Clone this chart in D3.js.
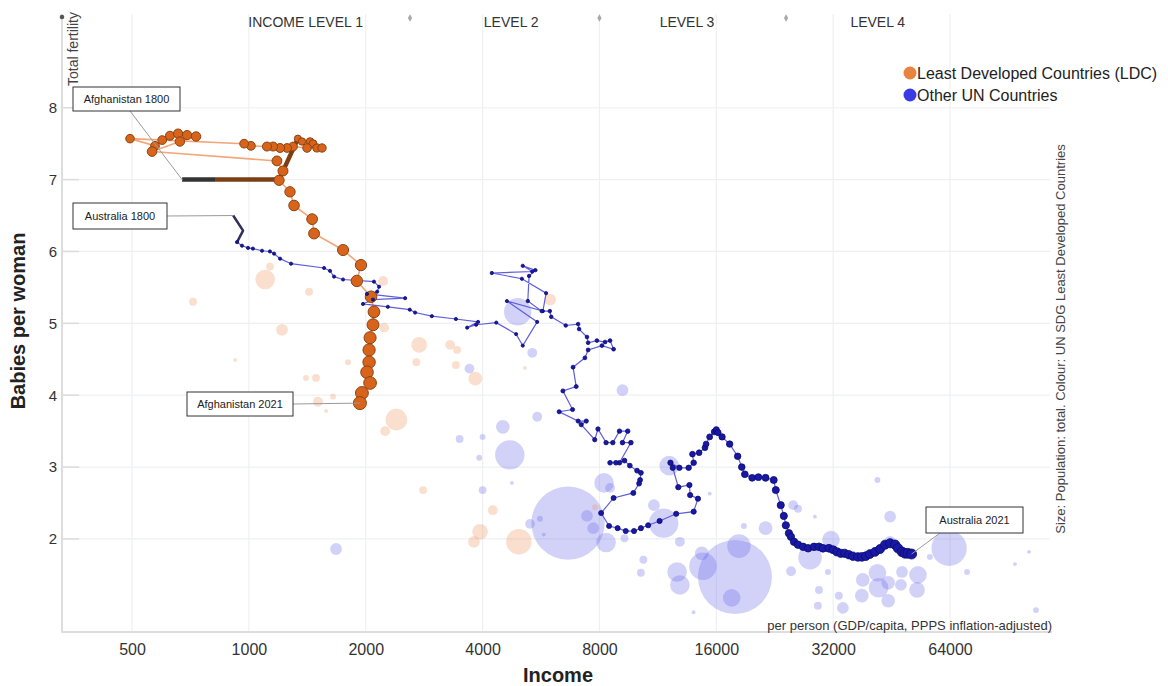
<!DOCTYPE html>
<html>
<head>
<meta charset="utf-8">
<script src="https://cdn.jsdelivr.net/npm/d3@7"></script>
<style>
body { margin: 0; background: #fff; }
svg { font-family: "Liberation Sans", Arial, sans-serif; }
</style>
</head>
<body>
<div id="chart"></div>
<script>
// Gapminder style chart: babies per woman vs income, trails for Afghanistan and Australia

var xTicks = [500, 1000, 2000, 4000, 8000, 16000, 32000, 64000];
var yTicks = [2, 3, 4, 5, 6, 7, 8];

var levelBounds = [2600, 8000, 24200];
var levelNames = ["INCOME LEVEL 1", "LEVEL 2", "LEVEL 3", "LEVEL 4"];
var levelLabelAt = [1400, 4740, 13450, 41700];

var legendItems = ["Least Developed Countries (LDC)", "Other UN Countries"];

// early years drawn as a thick line: [income, fertility]
var afghanistanEarly = [[673, 7.0], [818, 7.0], [1196, 7.0], [1337, 7.57]];
var australiaEarly = [[911, 6.5], [966, 6.29], [932, 6.13]];

// trail points: [income, fertility, population (millions)]
var afghanistanTrail = [
  [1337,7.57,13],[1370,7.53,14],[1437,7.53,15],[1463,7.50,16],[1497,7.44,17],[1543,7.44,18],
  [1412,7.44,19],[1299,7.46,20],[1254,7.44,20],[1203,7.44,21],[1154,7.46,21],[1113,7.46,21],
  [1012,7.47,20],[972,7.50,20],[494,7.57,19],[573,7.47,20],[598,7.55,20],[626,7.61,21],
  [657,7.64,22],[693,7.62,22],[731,7.60,23],[664,7.53,23],[563,7.39,24],[1181,7.26,25],
  [1224,7.12,26],[1196,6.99,27],[1276,6.83,28],[1307,6.64,29],[1455,6.45,30],[1472,6.25,31],
  [1748,6.02,32],[1944,5.81,33],[1897,5.59,34],[2064,5.37,35],[2100,5.16,36],[2088,4.98,37],
  [2052,4.80,38],[2040,4.63,39],[2040,4.46,40],[2015,4.32,41],[2052,4.17,42],[1955,4.03,43],
  [1932,3.89,44]
];

var australiaTrail = [
  [932,6.13,0.4],[960,6.08,0.45],[995,6.05,0.5],[1024,6.04,0.55],[1081,6.01,0.6],[1133,6.00,0.65],
  [1161,5.97,0.7],[1203,5.90,0.75],[1284,5.83,0.8],[1562,5.77,0.9],[1618,5.73,1.0],[1657,5.65,1.1],
  [1748,5.61,1.2],[2100,5.58,1.3],[2164,5.51,1.4],[2140,5.44,1.45],[2015,5.41,1.5],[2526,5.35,1.6],
  [2088,5.33,1.65],[1968,5.27,1.7],[2280,5.23,1.75],[2597,5.19,1.8],[2680,5.15,1.9],[2960,5.10,2.0],
  [3414,5.06,2.1],[3894,5.02,2.15],[3650,4.94,2.2],[3850,4.98,2.25],[4338,5.01,2.3],[4880,4.85,2.4],
  [5076,4.69,2.5],[5530,5.02,2.55],[4620,5.31,2.6],[5720,5.17,2.65],[5830,5.42,2.7],[5050,5.62,2.8],
  [4225,5.70,2.85],[5370,5.72,2.9],[5076,5.80,2.95],[5470,5.74,3.0],[5270,5.66,3.05],[5230,5.31,3.1],
  [5680,5.17,3.2],[5960,5.17,3.25],[6010,5.09,3.3],[6550,4.97,3.35],[7050,4.99,3.4],[7090,4.92,3.45],
  [7430,4.81,3.5],[7480,4.73,3.55],[7880,4.76,3.6],[8270,4.74,3.65],[8520,4.76,3.7],[8700,4.64,3.75],
  [8120,4.69,3.8],[7480,4.63,3.85],[7340,4.52,3.9],[6840,4.39,4.0],[6970,4.12,4.1],[6440,4.06,4.2],
  [6820,3.80,4.3],[6300,3.77,4.4],[7050,3.64,4.5],[7400,3.64,4.6],[7180,3.59,4.7],[7780,3.38,4.8],
  [7930,3.53,4.9],[8320,3.34,5.0],[8660,3.34,5.1],[9010,3.50,5.2],[9460,3.50,5.3],[9170,3.34,5.4],
  [9640,3.34,5.5],[9010,3.06,5.6],[8520,3.06,5.7],[8820,3.06,5.8],[9280,3.09,5.9],[9580,3.02,6.0],
  [10000,2.95,6.1],[10230,2.92,6.2],[10180,2.82,6.3],[10120,2.77,6.4],[9780,2.64,6.5],[8700,2.57,6.55],
  [8080,2.36,6.6],[8470,2.18,6.65],[8910,2.15,6.7],[9350,2.11,6.75],[9820,2.11,6.8],[10230,2.15,6.85],
  [10680,2.19,6.9],[11430,2.25,6.95],[12610,2.35,7.0],[13990,2.38,7.05],[14350,2.56,7.1],[13700,2.61,7.15],
  [13640,2.75,7.2],[12770,2.72,7.3],[12360,2.99,7.4],[12190,3.06,7.5],[12850,2.99,7.6],[13580,2.99,7.8],
  [13990,3.06,8.0],[13890,3.18,8.2],[14450,3.20,8.4],[14960,3.27,8.6],[15060,3.32,8.8],[15380,3.42,9.1],
  [15810,3.49,9.4],[16000,3.52,9.8],[16160,3.48,10.2],[16560,3.42,10.5],[17320,3.32,10.8],[18160,3.15,11.1],
  [18610,3.00,11.4],[18950,2.90,11.7],[19790,2.85,12.0],[20540,2.86,12.3],[21430,2.85,12.6],[22490,2.82,12.9],
  [22770,2.68,13.1],[23450,2.47,13.3],[23880,2.32,13.5],[24170,2.19,13.7],[24610,2.08,13.9],[24910,2.03,14.0],
  [25370,1.96,14.2],[25980,1.92,14.4],[26770,1.89,14.6],[27580,1.87,14.9],[28570,1.89,15.2],[29420,1.89,15.5],
  [30120,1.87,15.8],[31200,1.87,16.1],[32000,1.85,16.5],[32720,1.82,16.9],[33490,1.80,17.3],[34290,1.80,17.7],
  [35120,1.78,18.1],[35970,1.76,18.5],[37050,1.75,18.9],[37930,1.75,19.3],[38840,1.76,19.7],[39770,1.79,20.1],
  [41030,1.82,20.5],[42270,1.86,21.0],[43540,1.92,21.5],[44860,1.94,22.0],[46210,1.92,22.6],[47030,1.87,23.2],
  [48140,1.82,23.8],[48990,1.80,24.5],[49860,1.80,25.2],[50960,1.79,25.9]
];

// other countries in 2021: [income, fertility, population (millions), LDC 1/0]
var world2021 = [
  [1101,5.61,100,1],[1133,5.79,16,1],[718,5.30,16,1],[1217,4.91,36,1],[1429,5.44,16,1],[2218,5.59,25,1],
  [2230,4.94,25,1],[2745,4.70,64,1],[3300,4.70,25,1],[3440,4.63,16,1],[2700,4.46,16,1],[1800,4.46,9,1],
  [3414,4.42,16,1],[3830,4.23,49,1],[1489,4.24,16,1],[1403,4.24,9,1],[1506,3.91,25,1],[1647,3.98,9,1],
  [1581,3.78,4,1],[2398,3.66,121,1],[2243,3.50,25,1],[921,4.49,4,1],[2810,2.68,16,1],[4250,2.40,25,1],
  [3940,2.10,64,1],[3800,1.96,36,1],[4960,1.96,169,1],[5970,5.33,36,1],[5140,4.38,4,1],[7790,2.44,9,1],
  [4926,5.16,196,0],[5370,4.59,25,0],[3700,4.37,25,0],[9170,4.07,36,0],[5530,3.70,25,0],[4510,3.56,49,0],
  [3490,3.39,16,0],[4000,3.42,9,0],[4700,3.17,225,0],[3920,3.13,9,0],[4760,2.78,4,0],[4000,2.68,16,0],
  [6640,2.22,1400,0],[5620,2.28,9,0],[7430,2.32,36,0],[7710,2.15,36,0],[5300,2.21,25,0],[8320,1.95,100,0],
  [8220,2.78,100,0],[8520,2.71,25,0],[11050,2.47,36,0],[11710,2.22,225,0],[12100,3.02,100,0],[10380,1.71,16,0],
  [12680,1.54,100,0],[5750,2.06,4,0],[1677,1.86,36,0],[17870,1.47,1425,0],[18300,1.90,144,0],[17530,1.18,81,0],
  [14780,1.62,196,0],[14680,1.80,49,0],[12890,1.36,100,0],[21430,2.15,49,0],[25240,2.47,25,0],[24930,1.55,25,0],
  [27900,1.74,144,0],[31590,1.99,81,0],[29420,1.29,16,0],[31020,1.54,9,0],[33900,1.04,36,0],[33100,1.21,16,0],
  [38150,1.43,49,0],[41610,1.53,81,0],[44350,1.39,49,0],[44860,2.31,36,0],[48140,1.54,36,0],[52930,1.50,81,0],
  [41610,2.82,9,0],[63660,1.87,324,0],[56800,1.75,9,0],[70800,1.54,9,0],[102300,1.82,4,0],[94100,1.65,4,0],
  [106600,1.01,9,0],[52640,1.29,64,0],[47830,1.36,36,0],[41900,1.32,100,0],[37930,1.21,49,0],[44350,1.14,49,0],
  [29230,1.07,16,0],[15390,2.63,4,0],[18840,2.18,9,0],[25980,2.42,16,0],[28720,2.31,4,0],[13980,0.98,4,0],
  [10230,1.53,16,0],[9280,2.01,16,0],[12890,1.96,25,0],[44860,1.96,36,0]
];

var w = 1168,
    h = 686;

var svg = d3.select("#chart")
            .append("svg")
            .attr("width", w)
            .attr("height", h);

var x = d3.scaleLog().domain([330, 117200]).range([62, 1052]);
var y = d3.scaleLinear().domain([0.705, 9.36]).range([632, 10]);
var r = d3.scaleSqrt().domain([0, 1425]).range([0, 37]);

function dotR(d) { return Math.max(1.6, r(d[2])); }

// grid
svg.append("g").selectAll("line")
   .data(xTicks).enter().append("line")
   .attr("x1", d => x(d)).attr("x2", d => x(d))
   .attr("y1", 14).attr("y2", 632)
   .attr("stroke", "#eef0f2").attr("stroke-width", 1.2);

svg.append("g").selectAll("line")
   .data(yTicks).enter().append("line")
   .attr("x1", 62).attr("x2", 1050)
   .attr("y1", d => y(d)).attr("y2", d => y(d))
   .attr("stroke", "#eef0f2").attr("stroke-width", 1.2);

// y tick stubs
svg.append("g").selectAll("line")
   .data(yTicks).enter().append("line")
   .attr("x1", 62).attr("x2", 79)
   .attr("y1", d => y(d)).attr("y2", d => y(d))
   .attr("stroke", "#dcdcdc").attr("stroke-width", 1.5);

// axis lines
svg.append("line").attr("x1", 62).attr("x2", 62).attr("y1", 14).attr("y2", 633)
   .attr("stroke", "#dddddd").attr("stroke-width", 2);
svg.append("line").attr("x1", 61).attr("x2", 1052).attr("y1", 632).attr("y2", 632)
   .attr("stroke", "#dddddd").attr("stroke-width", 2);

var xAxis = svg.append("g")
   .attr("transform", "translate(0,632)")
   .call(d3.axisBottom(x).tickValues(xTicks).tickFormat(d3.format("d")).tickSize(0).tickPadding(12));
xAxis.select(".domain").remove();
xAxis.selectAll("text").attr("font-size", "16px").attr("fill", "#333")
     .attr("font-family", "Liberation Sans, Arial, sans-serif");

var yAxis = svg.append("g")
   .attr("transform", "translate(62,0)")
   .call(d3.axisLeft(y).tickValues(yTicks).tickSize(0).tickPadding(5));
yAxis.select(".domain").remove();
yAxis.selectAll("text").attr("font-size", "15px").attr("fill", "#333")
     .attr("font-family", "Liberation Sans, Arial, sans-serif");

// income level markers
svg.append("circle").attr("cx", x(x.domain()[0])).attr("cy", 17).attr("r", 2.3).attr("fill", "#555");
svg.append("g").selectAll("path")
   .data(levelBounds).enter().append("path")
   .attr("d", d3.symbol().type(d3.symbolDiamond).size(16))
   .attr("transform", d => "translate(" + x(d) + ",18)")
   .attr("fill", "#aaa");

svg.append("g").selectAll("text")
   .data(levelNames).enter().append("text")
   .attr("x", (d, i) => x(levelLabelAt[i]))
   .attr("y", 27)
   .attr("text-anchor", "middle")
   .attr("font-size", "14px")
   .attr("fill", "#333")
   .text(d => d);

// background bubbles
var bg = world2021.slice().sort((a, b) => b[2] - a[2]);
svg.append("g").selectAll("circle")
   .data(bg).enter().append("circle")
   .attr("cx", d => x(d[0]))
   .attr("cy", d => y(d[1]))
   .attr("r", d => r(d[2]))
   .attr("fill", d => d[3] ? "rgb(240,150,95)" : "rgb(95,95,230)")
   .attr("fill-opacity", d => d[3] ? 0.3 : 0.28);

var line = d3.line().x(d => x(d[0])).y(d => y(d[1]));

// trail lines
svg.append("path").datum(afghanistanTrail).attr("d", line)
   .attr("fill", "none").attr("stroke", "#f2a679").attr("stroke-width", 1.6);
svg.append("path").datum(australiaTrail).attr("d", line)
   .attr("fill", "none").attr("stroke", "#5f5fdc").attr("stroke-width", 1.2);

// early thick parts
svg.append("path").datum(afghanistanEarly.slice(1)).attr("d", line)
   .attr("fill", "none").attr("stroke", "#7c3f14").attr("stroke-width", 4.5)
   .attr("stroke-linejoin", "round");
svg.append("path").datum(afghanistanEarly.slice(0, 2)).attr("d", line)
   .attr("fill", "none").attr("stroke", "#333").attr("stroke-width", 4.5);
svg.append("path").datum(australiaEarly).attr("d", line)
   .attr("fill", "none").attr("stroke", "#30305c").attr("stroke-width", 2.5)
   .attr("stroke-linejoin", "round");

// trail dots
svg.append("g").selectAll("circle")
   .data(afghanistanTrail).enter().append("circle")
   .attr("cx", d => x(d[0])).attr("cy", d => y(d[1])).attr("r", dotR)
   .attr("fill", "#d8641c").attr("stroke", "#8a4312").attr("stroke-width", 1);
svg.append("g").selectAll("circle")
   .data(australiaTrail).enter().append("circle")
   .attr("cx", d => x(d[0])).attr("cy", d => y(d[1])).attr("r", dotR)
   .attr("fill", "#1818a4").attr("stroke", "#0b0b70").attr("stroke-width", 0.8);

// annotations
function note(label, bx, by, bw, bh, lx, ly, pt) {
  svg.append("line")
     .attr("x1", lx).attr("y1", ly)
     .attr("x2", x(pt[0])).attr("y2", y(pt[1]))
     .attr("stroke", "#9a9a9a").attr("stroke-width", 1);
  svg.append("rect")
     .attr("x", bx).attr("y", by).attr("width", bw).attr("height", bh)
     .attr("fill", "#fff").attr("stroke", "#333").attr("stroke-width", 1);
  svg.append("text")
     .attr("x", bx + bw / 2).attr("y", by + bh / 2 + 4)
     .attr("text-anchor", "middle")
     .attr("font-size", "11px").attr("fill", "#222")
     .text(label);
}
note("Afghanistan 1800", 73, 87, 107, 24, 130, 111, afghanistanEarly[0]);
note("Australia 1800", 73, 203, 94, 26, 167, 216, australiaEarly[0]);
note("Afghanistan 2021", 187, 392, 106, 24, 293, 404, afghanistanTrail[afghanistanTrail.length - 1]);
note("Australia 2021", 926, 507, 97, 26, 940, 533, australiaTrail[australiaTrail.length - 1]);

// legend
var legend = svg.append("g");
legend.selectAll("circle")
   .data(legendItems).enter().append("circle")
   .attr("cx", 910).attr("cy", (d, i) => 73 + i * 22).attr("r", 6.5)
   .attr("fill", (d, i) => i ? "#3b3be6" : "#e8843f");
legend.selectAll("text")
   .data(legendItems).enter().append("text")
   .attr("x", 917).attr("y", (d, i) => 79 + i * 22)
   .attr("font-size", "16px").attr("fill", "#222")
   .text(d => d);

// titles
svg.append("text")
   .attr("transform", "translate(25,321) rotate(-90)")
   .attr("text-anchor", "middle")
   .attr("font-size", "20px").attr("font-weight", "bold").attr("fill", "#222")
   .text("Babies per woman");

svg.append("text")
   .attr("transform", "translate(78,86) rotate(-90)")
   .attr("font-size", "14px").attr("fill", "#444")
   .text("Total fertility");

svg.append("text")
   .attr("x", 558).attr("y", 682)
   .attr("text-anchor", "middle")
   .attr("font-size", "20px").attr("font-weight", "bold").attr("fill", "#222")
   .text("Income");

svg.append("text")
   .attr("x", 1052).attr("y", 630)
   .attr("text-anchor", "end")
   .attr("font-size", "13px").attr("fill", "#333")
   .text("per person (GDP/capita, PPPS inflation-adjusted)");

svg.append("text")
   .attr("transform", "translate(1065,339) rotate(-90)")
   .attr("text-anchor", "middle")
   .attr("font-size", "13px").attr("fill", "#444")
   .text("Size: Population: total. Colour: UN SDG Least Developed Countries");
</script>
</body>
</html>
